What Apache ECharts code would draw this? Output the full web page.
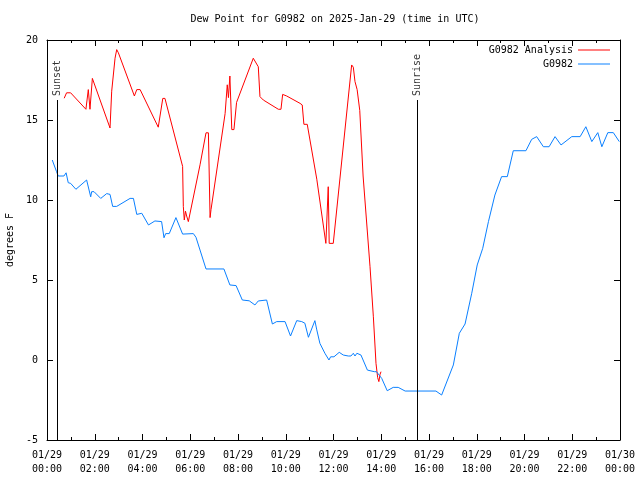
<!DOCTYPE html>
<html><head><meta charset="utf-8">
<script src="https://cdn.jsdelivr.net/npm/echarts@6/dist/echarts.min.js"></script>
<style>html,body{margin:0;padding:0;background:#fff}#c{width:640px;height:480px}</style>
</head><body><div id="c"></div>
<script>
var titleText = 'Dew Point for G0982 on 2025-Jan-29 (time in UTC)';
var yAxisName = 'degrees F';
var xTickLabels = ['01/29\n00:00','01/29\n02:00','01/29\n04:00','01/29\n06:00','01/29\n08:00','01/29\n10:00','01/29\n12:00','01/29\n14:00','01/29\n16:00','01/29\n18:00','01/29\n20:00','01/29\n22:00','01/30\n00:00'];
var seriesNames = ['G0982 Analysis','G0982'];
var sunNames = ['Sunset','Sunrise'];
var sunHours = [0.42, 15.5];
var sunLineTop = 16.25;

var analysisHours = [0.72,0.82,0.99,1.63,1.73,1.80,1.90,2.64,2.71,2.85,2.92,2.99,3.66,3.76,3.90,4.66,4.73,4.85,4.94,5.68,5.71,5.75,5.80,5.85,5.92,6.41,6.66,6.76,6.83,6.87,7.46,7.55,7.60,7.66,7.74,7.83,7.94,8.64,8.71,8.85,8.92,9.06,9.69,9.80,9.87,10.04,10.60,10.69,10.76,10.90,11.30,11.68,11.72,11.78,11.82,11.99,12.76,12.83,12.90,12.99,13.10,13.24,13.53,13.67,13.78,13.85,13.90,13.95,13.99];
var analysisDew   = [16.36,16.7,16.7,15.67,16.9,15.67,17.6,14.5,16.8,18.86,19.4,19.2,16.5,16.9,16.9,14.55,14.55,16.35,16.35,12.1,9.6,8.75,9.3,9.0,8.65,12.2,14.2,14.2,8.9,9.4,15.4,17.2,16.4,17.75,14.4,14.4,16.1,18.86,18.96,18.33,16.46,16.25,15.67,15.67,16.6,16.5,16.04,15.94,14.73,14.73,11.3,7.29,7.3,10.83,7.29,7.29,18.44,18.3,17.4,16.9,15.6,11.5,5.83,2.7,-0.21,-1.1,-1.35,-0.9,-0.73];

var obsHours = [0.22,0.40,0.47,0.71,0.80,0.89,0.99,1.21,1.66,1.73,1.83,1.87,1.97,2.25,2.50,2.64,2.75,2.92,3.48,3.62,3.76,3.97,4.25,4.52,4.80,4.90,4.97,5.12,5.40,5.68,6.13,6.24,6.66,7.41,7.66,7.92,8.18,8.47,8.71,8.85,9.20,9.44,9.62,9.97,10.20,10.46,10.67,10.80,10.95,11.22,11.30,11.43,11.64,11.81,11.88,12.02,12.24,12.41,12.62,12.73,12.83,12.90,12.98,13.15,13.42,13.71,13.80,14.02,14.25,14.50,14.71,15.00,16.29,16.53,17.02,17.27,17.51,17.79,18.02,18.25,18.49,18.76,19.04,19.28,19.53,20.06,20.30,20.51,20.79,21.03,21.28,21.53,21.98,22.33,22.57,22.82,23.07,23.24,23.49,23.72,23.97];
var obsDew   = [12.5,11.77,11.5,11.5,11.7,11.08,11.04,10.67,11.25,11.25,10.2,10.52,10.52,10.1,10.4,10.35,9.6,9.6,10.1,10.1,9.1,9.17,8.44,8.69,8.65,7.64,7.9,7.9,8.9,7.87,7.9,7.67,5.69,5.69,4.69,4.65,3.75,3.7,3.44,3.69,3.75,2.25,2.4,2.4,1.5,2.46,2.4,2.3,1.42,2.46,1.88,1.04,0.42,0,0.2,0.2,0.48,0.31,0.25,0.25,0.42,0.25,0.42,0.31,-0.63,-0.73,-0.73,-1.15,-1.92,-1.71,-1.71,-1.94,-1.94,-2.19,-0.31,1.67,2.25,4.17,5.94,6.98,8.65,10.31,11.46,11.46,13.08,13.08,13.79,13.96,13.33,13.33,13.96,13.44,13.96,13.96,14.58,13.65,14.21,13.33,14.21,14.21,13.65];

function pairs(xs, ys){ return xs.map(function(x,i){ return [x, ys[i]]; }); }

var FONT = 'DejaVu Sans Mono';
var chart = echarts.init(document.getElementById('c'), null, {renderer:'canvas'});

var sunMarkData = sunHours.map(function(h){ return [{coord:[h,-5]},{coord:[h,sunLineTop]}]; });
var sunLabelData = sunHours.map(function(h,i){ return {value:[h,sunLineTop], name: sunNames[i]}; });

var axisCommon = {
  type:'value', min:0, max:24, interval:2,
  axisLine:{show:true, onZero:false, lineStyle:{color:'#000', width:1}},
  axisTick:{show:true, inside:true, length:6, lineStyle:{color:'#000'}},
  minorTick:{show:true, splitNumber:2, length:3, lineStyle:{color:'#000'}},
  splitLine:{show:false}
};
var yCommon = {
  type:'value', min:-5, max:20, interval:5,
  axisLine:{show:true, onZero:false, lineStyle:{color:'#000', width:1}},
  axisTick:{show:true, inside:true, length:6, lineStyle:{color:'#000'}},
  splitLine:{show:false}
};

chart.setOption({
  animation:false,
  backgroundColor:'#fff',
  textStyle:{fontFamily:FONT},
  title:{text:titleText, left:330, top:9, textAlign:'center',
    textStyle:{fontFamily:FONT, fontSize:10, fontWeight:'normal', color:'#000'}},
  grid:{left:47, right:20, top:40, bottom:40, containLabel:false, outerBoundsMode:'none'},
  legend:{
    data:seriesNames, orient:'vertical', right:25, top:40, align:'right',
    icon:'rect', itemWidth:32, itemHeight:1, itemGap:4,
    textStyle:{fontFamily:FONT, fontSize:10, color:'#000'}
  },
  xAxis:[
    Object.assign({}, axisCommon, {position:'bottom',
      axisLabel:{show:true, margin:8, fontFamily:FONT, fontSize:10, color:'#000', lineHeight:14,
        showMinLabel:true, showMaxLabel:true,
        formatter:function(v){ return xTickLabels[Math.round(v/2)] || ''; }}}),
    Object.assign({}, axisCommon, {position:'top', axisLabel:{show:false}})
  ],
  yAxis:[
    Object.assign({}, yCommon, {position:'left', name:yAxisName, nameLocation:'middle', nameGap:32,
      nameTextStyle:{fontFamily:FONT, fontSize:10, color:'#000'},
      axisLabel:{show:true, margin:9, fontFamily:FONT, fontSize:10, color:'#000'}}),
    Object.assign({}, yCommon, {position:'right', axisLabel:{show:false}})
  ],
  series:[
    {name:seriesNames[0], type:'line', data:pairs(analysisHours, analysisDew), showSymbol:false, symbol:'none',
      lineStyle:{color:'#ff0000', width:1}, itemStyle:{color:'#ff0000'},
      markLine:{silent:true, symbol:'none', label:{show:false}, lineStyle:{color:'#000', width:1, type:'solid'},
        data:sunMarkData}},
    {name:seriesNames[1], type:'line', data:pairs(obsHours, obsDew), showSymbol:false, symbol:'none',
      lineStyle:{color:'#0a80ff', width:1}, itemStyle:{color:'#0a80ff'}},
    {name:'sunlabels', type:'scatter', data:sunLabelData, symbolSize:0, silent:true,
      label:{show:true, position:[0,-4], align:'left', verticalAlign:'middle', rotate:90,
        formatter:function(p){ return p.name; }, fontFamily:FONT, fontSize:10, color:'#000'}}
  ]
});
</script></body></html>
